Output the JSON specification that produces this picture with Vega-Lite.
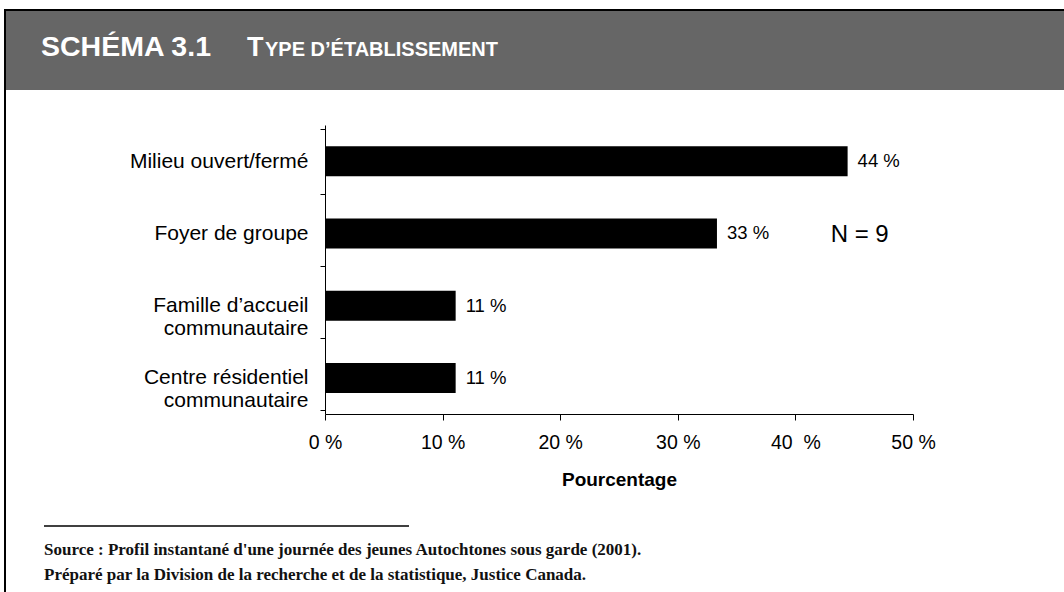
{
  "$schema": "https://vega.github.io/schema/vega-lite/v6.json",
  "autosize": {"type": "none"},
  "padding": {"left": 325, "top": 125, "right": 151, "bottom": 178},
  "width": 588,
  "height": 289,
  "background": "white",
  "config": {
    "view": {"stroke": null},
    "font": "Liberation Sans",
    "text": {"font": "Liberation Sans"}
  },
  "data": {
    "values": [
      {"type": "Milieu ouvert/fermé", "pct": 44.44, "label": "44 %"},
      {"type": "Foyer de groupe", "pct": 33.33, "label": "33 %"},
      {"type": "Famille d’accueil communautaire", "pct": 11.11, "label": "11 %"},
      {"type": "Centre résidentiel communautaire", "pct": 11.11, "label": "11 %"}
    ]
  },
  "layer": [
    {
      "data": {"values": [{"part": "band"}]},
      "mark": {"type": "rect", "fill": "#666666", "stroke": null},
      "encoding": {
        "x": {"value": -320},
        "x2": {"value": 745},
        "y": {"value": -114},
        "y2": {"value": -35}
      }
    },
    {
      "data": {"values": [{"part": "frame"}]},
      "mark": {"type": "rect", "fill": null, "stroke": "black", "strokeWidth": 2},
      "encoding": {
        "x": {"value": -320},
        "x2": {"value": 780},
        "y": {"value": -115},
        "y2": {"value": 500}
      }
    },
    {
      "data": {"values": [{"t": "SCHÉMA 3.1"}]},
      "mark": {"type": "text", "align": "left", "baseline": "alphabetic", "fontSize": 28.5, "fontWeight": "bold", "fill": "white"},
      "encoding": {"x": {"value": -284}, "y": {"value": -69}, "text": {"field": "t"}}
    },
    {
      "data": {"values": [{"t": "T"}]},
      "mark": {"type": "text", "align": "left", "baseline": "alphabetic", "fontSize": 27, "fontWeight": "bold", "fill": "white"},
      "encoding": {"x": {"value": -78}, "y": {"value": -69}, "text": {"field": "t"}}
    },
    {
      "data": {"values": [{"t": "YPE D’ÉTABLISSEMENT"}]},
      "mark": {"type": "text", "align": "left", "baseline": "alphabetic", "fontSize": 20, "fontWeight": "bold", "fill": "white"},
      "encoding": {"x": {"value": -60}, "y": {"value": -69}, "text": {"field": "t"}}
    },
    {
      "mark": {"type": "bar", "color": "black", "size": 30},
      "encoding": {
        "y": {
          "field": "type",
          "type": "nominal",
          "sort": null,
          "title": null,
          "axis": {
            "tickBand": "extent",
            "tickSize": 5,
            "tickColor": "black",
            "domainColor": "black",
            "labelFontSize": 21,
            "labelColor": "black",
            "labelPadding": 12,
            "labelLimit": 0,
            "labelLineHeight": 23,
            "labelExpr": "datum.label == 'Famille d’accueil communautaire' ? ['Famille d’accueil', 'communautaire'] : datum.label == 'Centre résidentiel communautaire' ? ['Centre résidentiel', 'communautaire'] : datum.label"
          }
        },
        "x": {
          "field": "pct",
          "type": "quantitative",
          "scale": {"domain": [0, 50], "nice": false},
          "title": "Pourcentage",
          "axis": {
            "values": [0, 10, 20, 30, 40, 50],
            "grid": false,
            "tickSize": 6,
            "tickColor": "black",
            "domainColor": "black",
            "labelFontSize": 19.5,
            "labelColor": "black",
            "labelPadding": 13,
            "labelFlush": false,
            "labelExpr": "datum.value == 40 ? '40\u00a0 %' : datum.value + ' %'",
            "titleFontSize": 19,
            "titleFontWeight": "bold",
            "titleColor": "black",
            "titlePadding": 19
          }
        }
      }
    },
    {
      "mark": {"type": "text", "align": "left", "dx": 10, "fontSize": 18.5, "color": "black"},
      "encoding": {
        "y": {"field": "type", "type": "nominal", "sort": null},
        "x": {"field": "pct", "type": "quantitative"},
        "text": {"field": "label"}
      }
    },
    {
      "data": {"values": [{"label": "N = 9", "pct": 43, "type": "Foyer de groupe"}]},
      "mark": {"type": "text", "align": "left", "fontSize": 24, "color": "black", "dy": 2},
      "encoding": {
        "y": {"field": "type", "type": "nominal", "sort": null},
        "x": {"field": "pct", "type": "quantitative"},
        "text": {"field": "label"}
      }
    },
    {
      "data": {"values": [{"part": "rule"}]},
      "mark": {"type": "rule", "color": "black", "strokeWidth": 1.5},
      "encoding": {
        "x": {"value": -281},
        "x2": {"value": 84},
        "y": {"value": 401}
      }
    },
    {
      "data": {"values": [{"t": "Source : Profil instantané d'une journée des jeunes Autochtones sous garde (2001)."}]},
      "mark": {"type": "text", "align": "left", "baseline": "alphabetic", "font": "Liberation Serif", "fontSize": 17, "fontWeight": "bold", "color": "#111111"},
      "encoding": {"x": {"value": -281}, "y": {"value": 430}, "text": {"field": "t"}}
    },
    {
      "data": {"values": [{"t": "Préparé par la Division de la recherche et de la statistique, Justice Canada."}]},
      "mark": {"type": "text", "align": "left", "baseline": "alphabetic", "font": "Liberation Serif", "fontSize": 17, "fontWeight": "bold", "color": "#111111"},
      "encoding": {"x": {"value": -281}, "y": {"value": 455}, "text": {"field": "t"}}
    }
  ]
}
